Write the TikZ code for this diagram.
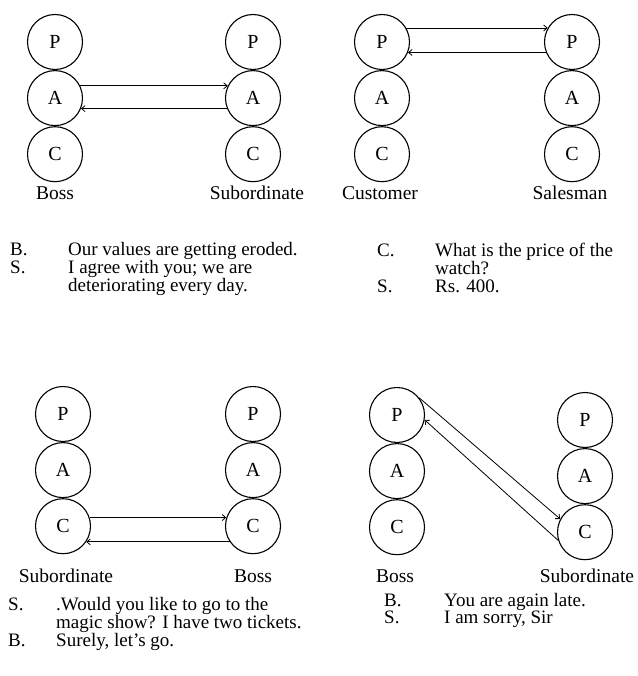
\documentclass[tikz,border=0pt]{standalone}
\usepackage{fontspec}
\setmainfont{Liberation Serif}
\usetikzlibrary{arrows.meta,positioning}
\tikzset{
  pac/.style={draw, circle, minimum size=55pt, inner sep=0pt, line width=1.1pt,
    font=\fontsize{20}{20}\selectfont},
  role/.style={anchor=base, inner sep=0pt, font=\fontsize{19.5}{19.5}\selectfont},
  talk/.style={anchor=base west, inner sep=0pt, font=\fontsize{19}{17.5}\selectfont},
  txarr/.style={-{Straight Barb[length=3.5pt,width=6pt]}, line width=0.8pt},
}

\begin{document}
\begin{tikzpicture}[x=1pt, y=-1pt]
  \useasboundingbox (0,0) rectangle (637,676);
  % Boss and Subordinate, adult to adult
  \node[pac] (bossP) at (55,42) {P};
  \node[pac, below=0pt of bossP] (bossA) {A};
  \node[pac, below=0pt of bossA] (bossC) {C};
  \node[pac] (subP) at (253,42) {P};
  \node[pac, below=0pt of subP] (subA) {A};
  \node[pac, below=0pt of subA] (subC) {C};
  \node[role] (bossName) at (55,200) {Boss};
  \node[role] (subName) at (257,200) {Subordinate};
  \draw[txarr] (bossA.26) -- (subA.154);
  \draw[txarr] (subA.-158) -- (bossA.-22);
  \node[talk] (bossTalk) at (10,255) {\begin{tabular}[t]{@{}p{58pt}@{}l@{}}
    B. & Our values are getting eroded.\\
    S. & I agree with you; we are\\
       & deteriorating every day.
  \end{tabular}};

  % Customer and Salesman, parent to parent
  \node[pac] (custP) at (382,42) {P};
  \node[pac, below=0pt of custP] (custA) {A};
  \node[pac, below=0pt of custA] (custC) {C};
  \node[pac] (salesP) at (572,42) {P};
  \node[pac, below=0pt of salesP] (salesA) {A};
  \node[pac, below=0pt of salesA] (salesC) {C};
  \node[role] (custName) at (380,200) {Customer};
  \node[role] (salesName) at (570,200) {Salesman};
  \draw[txarr] (custP.30) -- (salesP.150);
  \draw[txarr] (salesP.-158) -- (custP.-22);
  \node[talk] (custTalk) at (377,256) {\begin{tabular}[t]{@{}p{58pt}@{}l@{}}
    C. & What is the price of the\\
       & watch?\\
    S. & Rs. 400.
  \end{tabular}};

  % Subordinate and Boss, child to child
  \node[pac] (sub2P) at (63,414) {P};
  \node[pac, below=0pt of sub2P] (sub2A) {A};
  \node[pac, below=0pt of sub2A] (sub2C) {C};
  \node[pac] (boss2P) at (253,414) {P};
  \node[pac, below=0pt of boss2P] (boss2A) {A};
  \node[pac, below=0pt of boss2A] (boss2C) {C};
  \node[role] (sub2Name) at (66,582) {Subordinate};
  \node[role] (boss2Name) at (253,582) {Boss};
  \draw[txarr] (sub2C.18) -- (boss2C.162);
  \draw[txarr] (boss2C.-146) -- (sub2C.-34);
  \node[talk] (sub2Talk) at (8,610) {\begin{tabular}[t]{@{}p{48pt}@{}l@{}}
    S. & .Would you like to go to the\\
       & magic show? I have two tickets.\\
    B. & Surely, let's go.
  \end{tabular}};

  % Boss and Subordinate, parent to child
  \node[pac] (boss3P) at (397,415) {P};
  \node[pac, below=0pt of boss3P] (boss3A) {A};
  \node[pac, below=0pt of boss3A] (boss3C) {C};
  \node[pac] (sub3P) at (585,420) {P};
  \node[pac, below=0pt of sub3P] (sub3A) {A};
  \node[pac, below=0pt of sub3A] (sub3C) {C};
  \node[role] (boss3Name) at (395,582) {Boss};
  \node[role] (sub3Name) at (587,582) {Subordinate};
  \draw[txarr] (boss3P.38) -- (sub3C.152);
  \draw[txarr] (sub3C.197) -- (boss3P.-10);
  \node[talk] (boss3Talk) at (384,606) {\begin{tabular}[t]{@{}p{60pt}@{}l@{}}
    B. & You are again late.\\
    S. & I am sorry, Sir
  \end{tabular}};
\end{tikzpicture}
\end{document}
